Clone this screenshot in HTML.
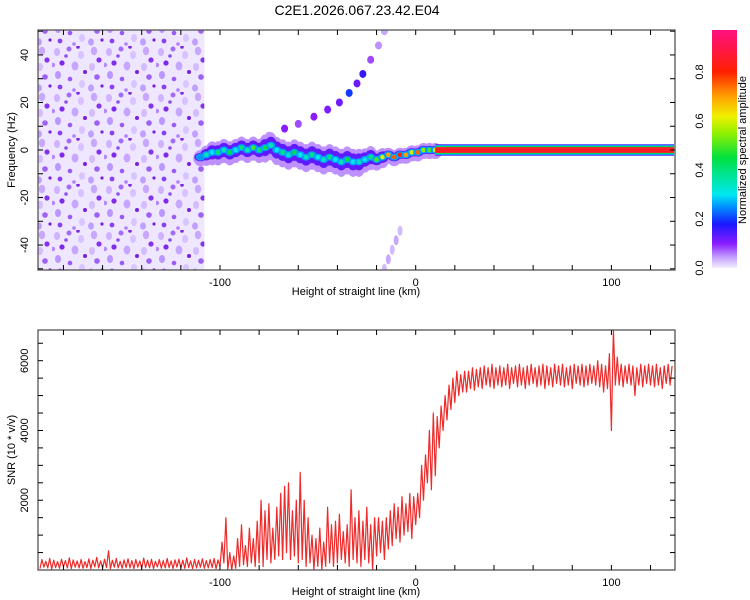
<!DOCTYPE html>
<html><head><meta charset="utf-8"><style>
body{margin:0;background:#fff;}
svg{display:block;font-family:"Liberation Sans",sans-serif;}
</style></head><body>
<svg id="fig" width="750" height="600" viewBox="0 0 750 600">
<defs>
<pattern id="noisePat" width="52" height="46" patternUnits="userSpaceOnUse">
<rect width="52" height="46" fill="#efe6ff"/>
<ellipse cx="5" cy="6" rx="3" ry="4" fill="#cfb3ff"/><circle cx="17" cy="3" r="2.5" fill="#a36cf8"/>
<ellipse cx="29" cy="9" rx="3" ry="4" fill="#d8c2ff"/><circle cx="10" cy="17" r="2.6" fill="#7e2ae8"/>
<ellipse cx="23" cy="20" rx="3.4" ry="4.5" fill="#c6a6ff"/><circle cx="33" cy="26" r="2" fill="#7a20e0"/>
<ellipse cx="6" cy="29" rx="3" ry="4" fill="#bb98ff"/><circle cx="18" cy="33" r="2.3" fill="#9a5af5"/>
<ellipse cx="30" cy="38" rx="3" ry="4" fill="#dac6ff"/><circle cx="14" cy="10" r="1.8" fill="#9050f0"/>
<circle cx="26" cy="1" r="1.8" fill="#7e28e8"/><circle cx="1" cy="19" r="2.2" fill="#b58aff"/>
<ellipse cx="42" cy="5" rx="3.2" ry="4.2" fill="#c8a8ff"/><circle cx="47" cy="14" r="2.6" fill="#8534ec"/>
<ellipse cx="40" cy="21" rx="3" ry="4" fill="#d4bcff"/><circle cx="45" cy="31" r="2.8" fill="#9c60f4"/>
<ellipse cx="39" cy="42" rx="3" ry="3.6" fill="#bfa0ff"/><circle cx="8" cy="41" r="2.4" fill="#8a40ee"/>
<circle cx="22" cy="44" r="1.8" fill="#b080ff"/><circle cx="50" cy="40" r="1.6" fill="#7a22e4"/>
</pattern>
<linearGradient id="cbGrad" x1="0" y1="1" x2="0" y2="0" gradientUnits="objectBoundingBox"></linearGradient>
<clipPath id="clipTop"><rect x="38" y="30" width="637" height="240"/></clipPath>
<clipPath id="clipBot"><rect x="38" y="330" width="637" height="240"/></clipPath>
</defs>
<text x="357" y="15" font-size="14" text-anchor="middle">C2E1.2026.067.23.42.E04</text>
<g id="topPanel"></g>
<g id="botPanel"></g>
<g id="cbPanel"></g>
</svg>
<script>
// ---- data ----
const xTicks = [-100, 0, 100];
const freqTicks = [-40, -20, 0, 20, 40];
const snrTicks = [2000, 4000, 6000];
const cbTicks = [0.0, 0.2, 0.4, 0.6, 0.8];
const ridgeKm = [-110,-107,-104,-101,-98,-95,-92,-89,-86,-83,-80,-77,-74,-71,-68,-65,-62,-59,-56,-53,-50,-47,-44,-41,-38,-35,-32,-29,-26,-23,-20,-17,-14,-11,-8,-5,-2,1,4,7,10];
const ridgeFreq = [-3,-2,-1,-1,0,-1,0,1,0,1,0,1,2,0,-1,-2,-1,-2,-3,-2,-3,-4,-3,-4,-5,-4,-5,-5,-4,-3,-4,-3,-2,-3,-2,-2,-1,-1,0,0,0];
const ridgeAmp = [.25,.35,.3,.4,.35,.45,.3,.4,.35,.5,.4,.45,.35,.3,.4,.35,.45,.3,.35,.4,.3,.35,.4,.3,.35,.45,.3,.35,.3,.4,.5,.6,.7,.75,.8,.7,.6,.75,.55,.5,.6];
const ridgeSpread = [3,4,5,5,5,5,5,5,5,5,5,6,6,6,6,6,6,6,6,6,6,6,6,6,6,6,6,6,5,5,4,4,3,3,3,3,3,3,3,3,3];
const bandStartKm = 10, bandEndKm = 132, bandAmp = 0.85;
const upKm = [-75,-67,-60,-52,-45,-39,-34,-30,-27,-23,-19,-16];
const upFreq = [6,9,11,14,17,20,24,28,32,38,44,50];
const upAmp = [.05,.1,.08,.1,.11,.12,.2,.12,.16,.08,.05,.04];
const lowKm = [-8,-10,-12,-14,-16];
const lowFreq = [-34,-38,-42,-46,-50];
const lowAmp = [.03,.04,.03,.04,.03];
const noiseStartKm = -193, noiseEndKm = -108;
const snrStartKm = -192, snrStepKm = 2;
const snrLow = [40,80,60,30,70,50,90,60,40,80,60,50,70,40,90,60,50,70,40,80,60,50,70,60,40,80,50,70,60,40,90,50,60,70,40,80,60,50,70,40,60,80,50,60,70,40,
100,200,0,0,50,100,150,100,200,100,200,100,300,200,300,400,300,500,300,400,200,300,100,200,0,100,0,100,200,100,200,300,200,100,300,200,100,300,200,0,400,500,300,600,700,900,800,1000,1100,900,1300,1500,2000,2500,2300,2700,3500,4000,4300,4600,4800,5000,5100,
5100,5200,5150,5250,5200,5300,5250,5200,5300,5250,5300,5200,5350,5250,5300,5200,5300,5350,5250,5300,5200,5300,5250,5350,5300,5250,5300,5200,5350,5300,5250,5300,5350,5300,5250,5100,5200,4000,5300,5300,5250,5350,5300,5000,5300,5250,5350,5300,5250,5300,5200,5350,5300];
const snrHigh = [300,250,330,280,240,310,270,350,290,260,300,240,320,280,360,260,310,550,280,330,250,290,320,270,300,260,340,280,310,250,300,270,330,260,290,310,280,350,260,300,280,320,270,300,330,290,
800,1500,500,400,900,1300,700,1200,900,1400,2000,1700,1900,1200,1800,2200,2400,2500,1700,2000,2800,2000,1500,1000,900,1200,800,1800,1300,1400,1600,1100,1300,2300,1500,1700,1400,1800,1300,1500,1500,1400,1500,1700,1900,1800,2100,1900,2200,2100,2200,3000,3300,4000,4500,4400,4700,5000,5300,5500,5700,5600,5700,
5700,5800,5750,5800,5850,5800,5900,5800,5850,5800,5900,5800,5850,5900,5800,5850,5900,5800,5850,5900,5850,5800,5900,5850,5900,5800,5850,5900,5850,5900,5850,5900,5850,6000,5900,5850,6200,6900,6100,5900,5850,5900,5850,5800,5900,5850,5900,5850,5900,5800,5850,5900,5850];

const NS = 'http://www.w3.org/2000/svg';
function mk(tag, attrs, parent){const e=document.createElementNS(NS,tag);for(const k in attrs)e.setAttribute(k,attrs[k]);parent.appendChild(e);return e;}
const X0=38, X1=675, KM0=-193, KM1=132.5;
const xs = km => X0 + (km-KM0)/(KM1-KM0)*(X1-X0);
const T0=30, T1=270, F0=-50.5, F1=50.5;
const yf = f => T1 - (f-F0)/(F1-F0)*(T1-T0);
const B0=330, B1=570, S0=0, S1=6880;
const ys = s => B1 - (s-S0)/(S1-S0)*(B1-B0);
const stops=[[0,'#f4eeff'],[0.04,'#c8a8ff'],[0.1,'#8a1cff'],[0.18,'#1818ff'],[0.25,'#0090ff'],[0.3,'#00e8f0'],[0.45,'#00e040'],[0.55,'#90f000'],[0.62,'#f0f000'],[0.7,'#ffa000'],[0.8,'#ff2000'],[0.97,'#ff1080']];
function hex(c){return [1,3,5].map(i=>parseInt(c.substr(i,2),16));}
function cmap(v){v=Math.max(0,Math.min(0.97,v));for(let i=1;i<stops.length;i++){if(v<=stops[i][0]){const a=stops[i-1],b=stops[i];const t=(v-a[0])/(b[0]-a[0]);const ca=hex(a[1]),cb=hex(b[1]);return 'rgb('+ca.map((c,j)=>Math.round(c+(cb[j]-c)*t)).join(',')+')';}}return stops[stops.length-1][1];}

// ---- top panel ----
const topG=document.getElementById('topPanel');
const tp=mk('g',{'clip-path':'url(#clipTop)'},topG);
const noise=mk('rect',{x:xs(noiseStartKm),y:T0,width:xs(noiseEndKm)-xs(noiseStartKm),height:T1-T0,fill:'url(#noisePat)'},tp);


function blobs(kms,fs,amps,name,rx,ry){
  for(let i=0;i<kms.length;i++){
    const e=mk('ellipse',{cx:xs(kms[i]),cy:yf(fs[i]),rx:rx,ry:ry,fill:cmap(amps[i])},tp);
    
    
  }
}
blobs(upKm,upFreq,upAmp,'upper-branch-blob',3.5,4);
blobs(lowKm,lowFreq,lowAmp,'lower-branch-blob',2.5,5);
const hz=(T1-T0)/(F1-F0);
for(let i=0;i<ridgeKm.length;i++){
  const cx=xs(ridgeKm[i]),cy=yf(ridgeFreq[i]);
  const h=ridgeSpread[i]*hz;
  const a=mk('ellipse',{cx:cx,cy:cy+1,rx:7,ry:h*0.85+2,fill:cmap(0.05)},tp);
  
  
}
for(let i=0;i<ridgeKm.length;i++){
  const cx=xs(ridgeKm[i]),cy=yf(ridgeFreq[i]);
  const h=ridgeSpread[i]*hz;
  const b=mk('ellipse',{cx:cx,cy:cy,rx:6,ry:h*0.6,fill:cmap(0.13)},tp);
  
  
}
for(let i=0;i<ridgeKm.length;i++){
  const cx=xs(ridgeKm[i]),cy=yf(ridgeFreq[i]);
  const c=mk('ellipse',{cx:cx,cy:cy,rx:4.5,ry:3.5,fill:cmap(0.26)},tp);
  
  
  const d=mk('circle',{cx:cx,cy:cy,r:2.3,fill:cmap(ridgeAmp[i])},tp);
  
  
}
const bx0=xs(bandStartKm),bx1=xs(bandEndKm);
[[2.4,0.15],[2.0,0.28],[1.6,0.45],[1.2,bandAmp]].forEach(([hw,v])=>{
  const r=mk('rect',{x:bx0,y:yf(hw),width:bx1-bx0,height:yf(-hw)-yf(hw),fill:cmap(v)},tp);
  
  
});
function frame(g,y0,y1){
  const f=mk('rect',{x:X0,y:y0,width:X1-X0,height:y1-y0,fill:'none',stroke:'#555','stroke-width':1.3},g);
  
  
  for(let k=-180;k<=120;k+=20){const x=xs(k);mk('line',{x1:x,x2:x,y1:y0,y2:y0+5,stroke:'#000'},g);mk('line',{x1:x,x2:x,y1:y1,y2:y1-5,stroke:'#000'},g);}
  xTicks.forEach(k=>{const t=mk('text',{x:xs(k),y:y1+16,'font-size':11,'text-anchor':'middle'},g);t.textContent=k;});
  const xl=mk('text',{x:356,y:y1+25,'font-size':11,'text-anchor':'middle'},g);xl.textContent='Height of straight line (km)';
  
  
}
frame(topG,T0,T1);
for(let f=-50;f<=50;f+=10){const y=yf(f);mk('line',{x1:X0,x2:X0+5,y1:y,y2:y,stroke:'#000'},topG);mk('line',{x1:X1,x2:X1-5,y1:y,y2:y,stroke:'#000'},topG);}
freqTicks.forEach(f=>{const t=mk('text',{x:28,y:yf(f),'font-size':11,'text-anchor':'middle',transform:`rotate(-90 28 ${yf(f)})`},topG);t.textContent=f;});
const yl=mk('text',{x:15,y:150,'font-size':11,'text-anchor':'middle',transform:'rotate(-90 15 150)'},topG);yl.textContent='Frequency (Hz)';



// ---- bottom panel ----
const botG=document.getElementById('botPanel');
const bp=mk('g',{'clip-path':'url(#clipBot)'},botG);
let pts=[];
for(let i=0;i<snrLow.length;i++){
  const k=snrStartKm+i*snrStepKm;
  pts.push(xs(k).toFixed(1)+','+ys(snrLow[i]).toFixed(1));
  pts.push(xs(k+snrStepKm/2).toFixed(1)+','+ys(snrHigh[i]).toFixed(1));
}
const line=mk('polyline',{points:pts.join(' '),fill:'none',stroke:'#ee2a2a','stroke-width':1.2,'stroke-linejoin':'round'},bp);


frame(botG,B0,B1);
for(let s=500;s<=6500;s+=500){const y=ys(s);mk('line',{x1:X0,x2:X0+5,y1:y,y2:y,stroke:'#000'},botG);mk('line',{x1:X1,x2:X1-5,y1:y,y2:y,stroke:'#000'},botG);}
snrTicks.forEach(s=>{const t=mk('text',{x:28,y:ys(s),'font-size':11,'text-anchor':'middle',transform:`rotate(-90 28 ${ys(s)})`},botG);t.textContent=s;});
const yl2=mk('text',{x:15,y:450,'font-size':11,'text-anchor':'middle',transform:'rotate(-90 15 450)'},botG);yl2.textContent='SNR (10 * v/v)';



// ---- colorbar ----
const cbG=document.getElementById('cbPanel');
const grad=document.getElementById('cbGrad');
const cbY=v=>268-245*v;
const vtop=(268-30)/245;
stops.forEach(([v,c])=>{mk('stop',{offset:(v/vtop).toFixed(3),'stop-color':c},grad);});
const cbr=mk('rect',{x:712,y:30,width:25,height:238,fill:'url(#cbGrad)'},cbG);


cbTicks.forEach(v=>{const y=cbY(v);const t=mk('text',{x:703,y:y,'font-size':11,'text-anchor':'middle',transform:`rotate(-90 703 ${y})`},cbG);t.textContent=v.toFixed(1);});
const cl=mk('text',{x:746,y:150,'font-size':11,'text-anchor':'middle',transform:'rotate(-90 746 150)'},cbG);cl.textContent='Normalized spectral amplitude';


</script>
</body></html>
